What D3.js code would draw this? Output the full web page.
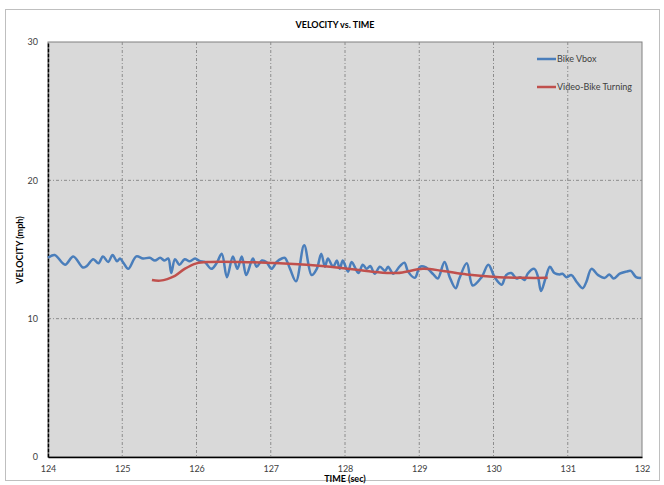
<!DOCTYPE html>
<html>
<head>
<meta charset="utf-8">
<script src="https://cdn.jsdelivr.net/npm/d3@7.9.0/dist/d3.min.js"></script>
<style>
  body { margin: 0; background: #fff; }
  svg { font-family: Lato, "Open Sans", sans-serif; }
</style>
</head>
<body>
<svg id="chart" width="664" height="485"></svg>
<script>
// Bike Vbox (time in sec, velocity in mph)
const vboxTime = [124.00,124.09,124.23,124.34,124.47,124.52,124.61,124.68,124.74,124.81,124.87,124.93,124.97,125.02,125.08,125.19,125.28,125.37,125.44,125.51,125.57,125.62,125.66,125.71,125.77,125.84,125.91,125.98,126.05,126.11,126.20,126.27,126.34,126.41,126.49,126.55,126.61,126.67,126.76,126.81,126.88,126.94,127.01,127.08,127.15,127.19,127.26,127.34,127.45,127.55,127.62,127.68,127.73,127.77,127.84,127.89,127.93,127.97,128.04,128.09,128.18,128.24,128.29,128.34,128.40,128.47,128.54,128.58,128.65,128.74,128.80,128.85,128.94,129.01,129.09,129.19,129.25,129.34,129.41,129.49,129.54,129.64,129.72,129.84,129.93,130.02,130.11,130.17,130.24,130.31,130.36,130.42,130.46,130.55,130.60,130.64,130.70,130.76,130.82,130.89,130.93,130.98,131.05,131.12,131.20,131.25,131.32,131.41,131.50,131.56,131.62,131.70,131.79,131.85,131.92,131.99];
const vboxSpeed = [14.4,14.6,13.9,14.5,13.7,13.8,14.3,14.0,14.5,14.1,14.6,14.15,14.35,14.0,13.6,14.5,14.35,14.4,14.2,14.4,14.2,14.35,13.3,14.3,13.9,14.3,14.15,14.35,14.15,14.1,13.6,14.0,14.7,13.0,14.5,13.6,14.5,13.15,14.35,13.75,14.2,14.1,13.6,14.1,14.35,14.4,13.6,12.7,15.3,13.15,13.6,14.7,13.75,14.35,13.75,14.2,13.6,14.2,13.4,14.1,13.3,13.9,13.6,13.8,13.25,13.75,13.45,13.75,13.25,13.8,14.05,13.4,12.95,13.75,13.7,13.2,12.9,14.1,13.0,12.2,12.9,14.0,12.4,13.0,13.9,12.95,12.45,13.15,13.3,12.9,13.0,12.8,13.25,13.6,13.0,12.0,12.9,13.75,13.3,13.2,13.25,13.0,13.15,12.65,12.2,12.65,13.6,13.15,12.95,13.2,12.9,13.25,13.4,13.45,13.0,12.95];

// Video-Bike Turning
const videoTime = [125.40,125.51,125.71,125.84,126.00,126.18,126.58,127.12,127.80,128.37,128.70,129.05,129.32,129.64,130.08,130.42,130.73];
const videoSpeed = [12.8,12.75,13.1,13.6,14.0,14.1,14.1,14.0,13.75,13.4,13.3,13.6,13.45,13.2,13.0,12.95,12.95];

const xTicks = [124,125,126,127,128,129,130,131,132];
const yTicks = [0,10,20,30];
const seriesNames = ["Bike Vbox", "Video-Bike Turning"];
const seriesColors = ["#4a7ebb", "#c0504d"];

const svg = d3.select("#chart");
const plot = { left: 48, right: 642, top: 42, bottom: 457 };

const x = d3.scaleLinear().domain([124, 132]).range([plot.left, plot.right]);
const y = d3.scaleLinear().domain([0, 30]).range([plot.bottom, plot.top]);

// outer frame
svg.append("rect")
  .attr("x", 5.5).attr("y", 9.5).attr("width", 654).attr("height", 471)
  .attr("fill", "#fff").attr("stroke", "#bfbfbf");

// plot background
svg.append("rect")
  .attr("x", plot.left).attr("y", plot.top)
  .attr("width", plot.right - plot.left).attr("height", plot.bottom - plot.top)
  .attr("fill", "#d9d9d9").attr("stroke", "#808080");

// grid lines
svg.append("g").selectAll("line")
  .data(xTicks.slice(1, -1)).join("line")
  .attr("x1", d => x(d)).attr("x2", d => x(d))
  .attr("y1", plot.top).attr("y2", plot.bottom)
  .attr("stroke", "#8c8c8c").attr("stroke-dasharray", "3,2,1,2");

svg.append("g").selectAll("line")
  .data(yTicks.slice(1, -1)).join("line")
  .attr("x1", plot.left).attr("x2", plot.right)
  .attr("y1", d => y(d)).attr("y2", d => y(d))
  .attr("stroke", "#8c8c8c").attr("stroke-dasharray", "3,2,1,2");

// axes
const xAxis = svg.append("g")
  .attr("transform", `translate(0,${plot.bottom})`)
  .call(d3.axisBottom(x).tickValues(xTicks).tickSize(0).tickPadding(9).tickFormat(d3.format("d")));
xAxis.select(".domain").attr("stroke", "#000").attr("stroke-width", 1.5);

const yAxis = svg.append("g")
  .attr("transform", `translate(${plot.left},0)`)
  .call(d3.axisLeft(y).tickValues(yTicks).tickSize(0).tickPadding(10));
yAxis.select(".domain").attr("stroke", "#000").attr("stroke-width", 1.5).attr("stroke-dasharray", "4,1");

svg.selectAll(".tick text").attr("font-size", 9).attr("fill", "#404040")
  .attr("font-family", "Lato, 'Open Sans', sans-serif");

// lines
const line = d3.line()
  .x(d => x(d[0])).y(d => y(d[1]))
  .curve(d3.curveCatmullRom.alpha(0.5));

svg.append("path")
  .datum(d3.zip(vboxTime, vboxSpeed))
  .attr("d", line).attr("fill", "none")
  .attr("stroke", seriesColors[0]).attr("stroke-width", 2.5);

svg.append("path")
  .datum(d3.zip(videoTime, videoSpeed))
  .attr("d", line).attr("fill", "none")
  .attr("stroke", seriesColors[1]).attr("stroke-width", 2.5);

// titles
svg.append("text")
  .attr("x", 335).attr("y", 28).attr("text-anchor", "middle")
  .attr("font-size", 9).attr("font-weight", "bold").attr("fill", "#000")
  .text("VELOCITY vs. TIME");

svg.append("text")
  .attr("x", 345).attr("y", 482).attr("text-anchor", "middle")
  .attr("font-size", 9).attr("font-weight", "bold").attr("fill", "#000")
  .text("TIME (sec)");

svg.append("text")
  .attr("transform", "translate(23,250) rotate(-90)")
  .attr("text-anchor", "middle")
  .attr("font-size", 9).attr("font-weight", "bold").attr("fill", "#000")
  .text("VELOCITY (mph)");

// legend
const legend = svg.append("g");
seriesNames.forEach((name, i) => {
  const ly = 59 + i * 28;
  legend.append("line")
    .attr("x1", 537).attr("x2", 556).attr("y1", ly).attr("y2", ly)
    .attr("stroke", seriesColors[i]).attr("stroke-width", 2.5);
  legend.append("text")
    .attr("x", 557).attr("y", ly + 3)
    .attr("font-size", 9).attr("fill", "#404040")
    .text(name);
});
</script>
</body>
</html>
